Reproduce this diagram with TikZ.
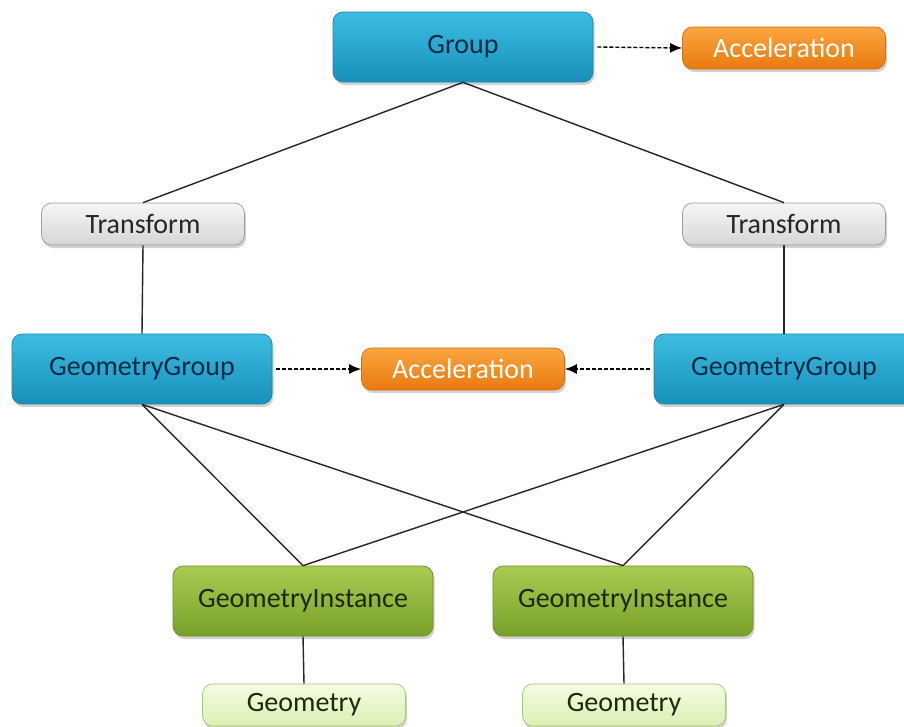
\documentclass[tikz,border=0pt]{standalone}
\usepackage{fontspec}
\setmainfont{Carlito}
\usepackage{tikz}
\usetikzlibrary{positioning, arrows.meta, shadows}

\definecolor{grptop}{HTML}{3DBDE2}
\definecolor{grpbot}{HTML}{1890BA}
\definecolor{grpedge}{HTML}{1A86AA}
\definecolor{grptext}{HTML}{0E2C48}
\definecolor{acctop}{HTML}{FBA640}
\definecolor{accbot}{HTML}{E8790E}
\definecolor{accedge}{HTML}{D2700E}
\definecolor{xftop}{HTML}{F6F6F6}
\definecolor{xfbot}{HTML}{D6D6D6}
\definecolor{xfedge}{HTML}{9C9C9C}
\definecolor{insttop}{HTML}{A8CC52}
\definecolor{instbot}{HTML}{78A028}
\definecolor{instedge}{HTML}{6C9022}
\definecolor{insttext}{HTML}{1C2A0C}
\definecolor{geotop}{HTML}{F4FCE4}
\definecolor{geobot}{HTML}{DBF0B2}
\definecolor{geoedge}{HTML}{A6C67A}

\tikzset{
  box/.style={rounded corners=10pt, line width=0.7pt, inner sep=0pt,
    font=\fontsize{28}{32}\selectfont,
    drop shadow={opacity=0.35, shadow xshift=1.5pt, shadow yshift=-3pt}},
  bigbox/.style={box, minimum width=260pt, minimum height=70pt},
  smallbox/.style={box, minimum width=203pt, minimum height=42pt},
  groupbox/.style={bigbox, draw=grpedge, top color=grptop, bottom color=grpbot, text=grptext},
  instbox/.style={bigbox, draw=instedge, top color=insttop, bottom color=instbot, text=insttext},
  accbox/.style={smallbox, draw=accedge, top color=acctop, bottom color=accbot, text=white},
  xformbox/.style={smallbox, draw=xfedge, top color=xftop, bottom color=xfbot, text=black!85},
  geombox/.style={smallbox, draw=geoedge, top color=geotop, bottom color=geobot, text=insttext},
  link/.style={line width=1.4pt, black!85},
  ref/.style={line width=1.4pt, dash pattern=on 4pt off 2pt, -{Latex[length=12pt,width=10pt]}}
}

\begin{document}
\begin{tikzpicture}[x=1pt, y=-1pt]
\useasboundingbox (0,0) rectangle (904,726);
\clip (0,0) rectangle (904,726);
\fill[white] (0,0) rectangle (904,726);

% top level
\node[groupbox] (group) at (463,47) {Group};
\node[accbox] (accTop) at (784,48) {Acceleration};

% transforms
\node[xformbox] (xformL) at (143,224) {Transform};
\node[xformbox] (xformR) at (784,224) {Transform};

% geometry groups
\node[groupbox] (ggL) at (142,369) {GeometryGroup};
\node[accbox] (accMid) at (463,369) {Acceleration};
\node[groupbox] (ggR) at (784,369) {GeometryGroup};

% instances and geometry
\node[instbox] (giL) at (303,601) {GeometryInstance};
\node[instbox] (giR) at (623,601) {GeometryInstance};
\node[geombox] (geoL) at (304,705) {Geometry};
\node[geombox] (geoR) at (624,705) {Geometry};

% tree links
\draw[link] (group.south) -- (xformL.north);
\draw[link] (group.south) -- (xformR.north);
\draw[link] (xformL.south) -- (ggL.north);
\draw[link] (xformR.south) -- (ggR.north);
\foreach \g in {ggL,ggR}{
  \draw[link] (\g.south) -- (giL.north);
  \draw[link] (\g.south) -- (giR.north);
}
\draw[link] (giL.south) -- (geoL.north);
\draw[link] (giR.south) -- (geoR.north);

% acceleration references
\draw[ref] (group.east) ++(4,0) -- (accTop.west);
\draw[ref] (ggL.east) ++(4,0) -- (accMid.west);
\draw[ref] (ggR.west) ++(-4,0) -- (accMid.east);
\end{tikzpicture}
\end{document}
